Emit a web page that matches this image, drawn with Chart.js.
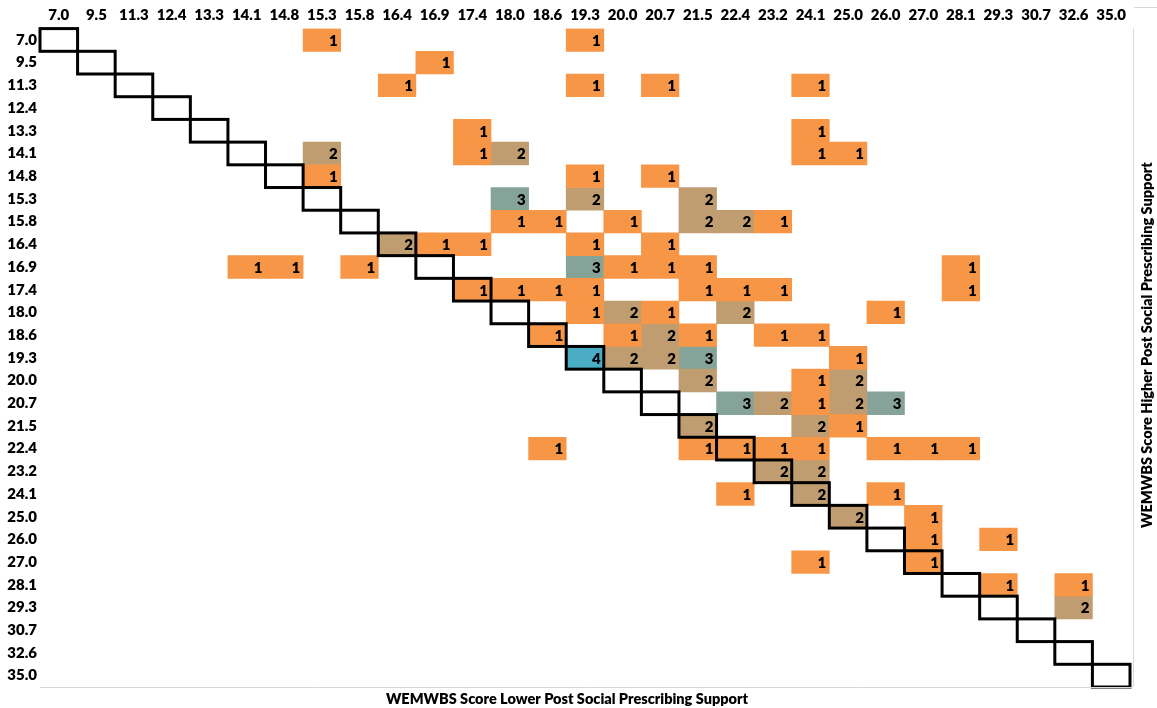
<!DOCTYPE html>
<html><head><meta charset="utf-8">
<script src="https://cdn.jsdelivr.net/npm/chart.js@4.4.1/dist/chart.umd.min.js"></script>
<style>html,body{margin:0;padding:0;background:#fff}canvas{display:block}</style>
</head><body>
<canvas id="c" width="1157" height="708"></canvas>
<script>
// Axis categories (same score bins on both axes)
const scoreLabels = ['7.0','9.5','11.3','12.4','13.3','14.1','14.8','15.3','15.8','16.4','16.9','17.4','18.0','18.6','19.3','20.0','20.7','21.5','22.4','23.2','24.1','25.0','26.0','27.0','28.1','29.3','30.7','32.6','35.0'];
const xAxisTitle = 'WEMWBS Score Lower Post Social Prescribing Support';
const yAxisTitle = 'WEMWBS Score Higher Post Social Prescribing Support';

// Non-empty cells: row (higher score), column (lower score), count
const cellRow = [
 '7.0','7.0',
 '9.5',
 '11.3','11.3','11.3','11.3',
 '13.3','13.3',
 '14.1','14.1','14.1','14.1','14.1',
 '14.8','14.8','14.8',
 '15.3','15.3','15.3',
 '15.8','15.8','15.8','15.8','15.8','15.8',
 '16.4','16.4','16.4','16.4','16.4',
 '16.9','16.9','16.9','16.9','16.9','16.9','16.9','16.9',
 '17.4','17.4','17.4','17.4','17.4','17.4','17.4','17.4',
 '18.0','18.0','18.0','18.0','18.0',
 '18.6','18.6','18.6','18.6','18.6','18.6',
 '19.3','19.3','19.3','19.3','19.3',
 '20.0','20.0','20.0',
 '20.7','20.7','20.7','20.7','20.7',
 '21.5','21.5','21.5',
 '22.4','22.4','22.4','22.4','22.4','22.4','22.4','22.4',
 '23.2','23.2',
 '24.1','24.1','24.1',
 '25.0','25.0',
 '26.0','26.0',
 '27.0','27.0',
 '28.1','28.1',
 '29.3'
];
const cellCol = [
 '15.3','19.3',
 '16.9',
 '16.4','19.3','20.7','24.1',
 '17.4','24.1',
 '15.3','17.4','18.0','24.1','25.0',
 '15.3','19.3','20.7',
 '18.0','19.3','21.5',
 '18.0','18.6','20.0','21.5','22.4','23.2',
 '16.4','16.9','17.4','19.3','20.7',
 '14.1','14.8','15.8','19.3','20.0','20.7','21.5','28.1',
 '17.4','18.0','18.6','19.3','21.5','22.4','23.2','28.1',
 '19.3','20.0','20.7','22.4','26.0',
 '18.6','20.0','20.7','21.5','23.2','24.1',
 '19.3','20.0','20.7','21.5','25.0',
 '21.5','24.1','25.0',
 '22.4','23.2','24.1','25.0','26.0',
 '21.5','24.1','25.0',
 '18.6','21.5','22.4','23.2','24.1','26.0','27.0','28.1',
 '23.2','24.1',
 '22.4','24.1','26.0',
 '25.0','27.0',
 '27.0','29.3',
 '24.1','27.0',
 '29.3','32.6',
 '32.6'
];
const cellCount = [
 1,1,
 1,
 1,1,1,1,
 1,1,
 2,1,2,1,1,
 1,1,1,
 3,2,2,
 1,1,1,2,2,1,
 2,1,1,1,1,
 1,1,1,3,1,1,1,1,
 1,1,1,1,1,1,1,1,
 1,2,1,2,1,
 1,1,2,1,1,1,
 4,2,2,3,1,
 2,1,2,
 3,2,1,2,3,
 2,2,1,
 1,1,1,1,1,1,1,1,
 2,2,
 1,2,1,
 2,1,
 1,1,
 1,1,
 1,1,
 2
];
const countLevels = [1,2,3,4];

// styling
const levelColors = {1:'#F79646',2:'#BF9D70',3:'#86A39A',4:'#4BACC6'};
const FONT = 'Lato';

const datasets = countLevels.map(level => {
  const data = [];
  cellCount.forEach((n, i) => {
    if (n === level) {
      const r = scoreLabels.indexOf(cellRow[i]);
      data.push({x: cellCol[i], y: [r - 0.5, r + 0.5], n: n});
    }
  });
  return {
    label: String(level),
    data: data,
    backgroundColor: levelColors[level],
    borderWidth: 0,
    grouped: false,
    barPercentage: 1,
    categoryPercentage: 1
  };
});

const cellText = {
  id: 'cellText',
  afterDatasetsDraw(chart) {
    const ctx = chart.ctx;
    ctx.save();
    ctx.font = '800 15px ' + FONT;
    ctx.fillStyle = '#000';
    ctx.textAlign = 'right';
    ctx.textBaseline = 'middle';
    chart.data.datasets.forEach((ds, di) => {
      const meta = chart.getDatasetMeta(di);
      meta.data.forEach((el, j) => {
        const cx = el.x + el.width / 2 - 3;
        const cy = (el.y + el.base) / 2 + 1;
        ctx.fillText(String(ds.data[j].n), cx, cy);
      });
    });
    ctx.restore();
  }
};

const diagonal = {
  id: 'diagonal',
  afterDatasetsDraw(chart) {
    const ctx = chart.ctx, xs = chart.scales.x, ys = chart.scales.y;
    const half = (xs.getPixelForValue(1) - xs.getPixelForValue(0)) / 2;
    ctx.save();
    ctx.strokeStyle = '#000';
    ctx.lineWidth = 3;
    scoreLabels.forEach((l, i) => {
      const cx = xs.getPixelForValue(i);
      const y0 = ys.getPixelForValue(i - 0.5), y1 = ys.getPixelForValue(i + 0.5);
      ctx.strokeRect(cx - half, y0, half * 2, y1 - y0);
    });
    ctx.restore();
  }
};

const frame = {
  id: 'frame',
  afterDraw(chart) {
    const ctx = chart.ctx, a = chart.chartArea;
    ctx.save();
    ctx.strokeStyle = '#d9d9d9';
    ctx.lineWidth = 1;
    ctx.beginPath();
    ctx.moveTo(a.left, a.bottom + 0.5); ctx.lineTo(a.right + 3, a.bottom + 0.5);
    ctx.moveTo(a.right + 3.5, a.top); ctx.lineTo(a.right + 3.5, a.bottom);
    ctx.moveTo(a.right + 4, 7.5); ctx.lineTo(chart.width, 7.5);
    ctx.stroke();
    ctx.fillStyle = '#000';
    ctx.font = '800 14.5px ' + FONT;
    ctx.textAlign = 'center';
    ctx.textBaseline = 'middle';
    ctx.fillText(xAxisTitle, 567, 699);
    ctx.translate(1147, 345);
    ctx.rotate(-Math.PI / 2);
    ctx.fillText(yAxisTitle, 0, 0);
    ctx.restore();
  }
};

new Chart(document.getElementById('c'), {
  type: 'bar',
  data: { labels: scoreLabels, datasets: datasets },
  options: {
    responsive: false,
    animation: false,
    devicePixelRatio: 1,
    layout: { padding: { left: 0, top: 0, right: 27, bottom: 21 } },
    plugins: { legend: { display: false }, tooltip: { enabled: false } },
    scales: {
      x: {
        type: 'category',
        position: 'top',
        offset: true,
        grid: { display: false },
        border: { display: false },
        ticks: { autoSkip: false, maxRotation: 0, minRotation: 0, padding: -4,
          color: '#000', font: { family: FONT, weight: 800, size: 15 } },
        afterFit(s) { s.height = 28.6; }
      },
      y: {
        type: 'linear',
        reverse: true,
        min: -0.5,
        max: scoreLabels.length - 0.5,
        grid: { display: false },
        border: { display: false },
        afterBuildTicks(s) { s.ticks = scoreLabels.map((l, i) => ({ value: i })); },
        ticks: { padding: -5, color: '#000', font: { family: FONT, weight: 800, size: 15 },
          callback: (v) => scoreLabels[v] },
        afterFit(s) { s.width = 40; }
      }
    }
  },
  plugins: [cellText, diagonal, frame]
});
</script>
</body></html>
